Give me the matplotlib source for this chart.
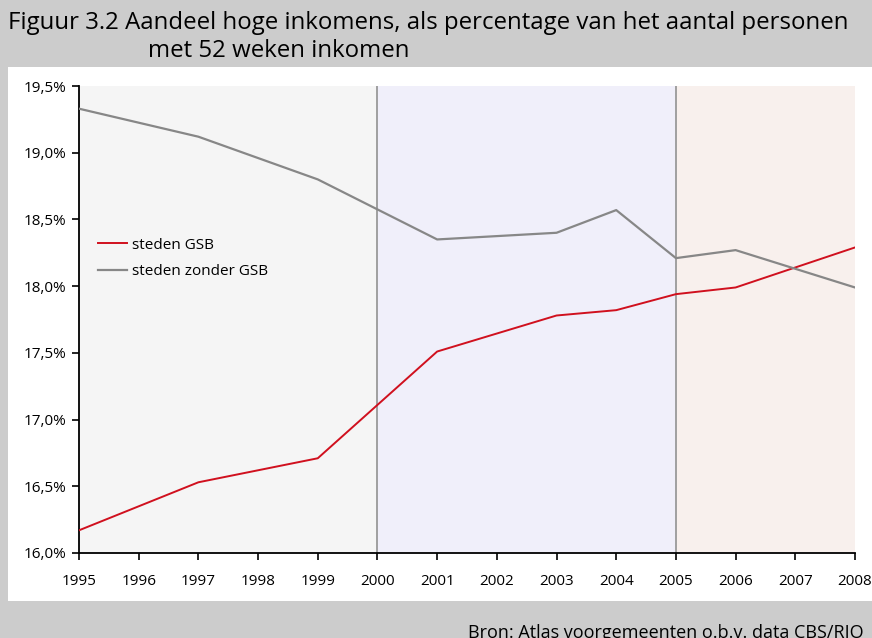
import numpy as np
import matplotlib.pyplot as plt
from matplotlib.patches import Rectangle
from matplotlib.ticker import FuncFormatter

# data
years_gsb = [1995, 1997, 1999, 2001, 2003, 2004, 2005, 2006, 2008]
steden_gsb = [16.17, 16.53, 16.71, 17.51, 17.78, 17.82, 17.94, 17.99, 18.29]
years_zonder = [1995, 1997, 1999, 2001, 2003, 2004, 2005, 2006, 2008]
steden_zonder = [19.33, 19.12, 18.80, 18.35, 18.40, 18.57, 18.21, 18.27, 17.99]
periods = [(1995, 2000, '#f5f5f5'), (2000, 2005, '#f0effa'), (2005, 2008, '#f8f0ed')]
xticks = list(range(1995, 2009))
yticks = [16.0, 16.5, 17.0, 17.5, 18.0, 18.5, 19.0, 19.5]

W, H = 872, 638
plt.rcParams['font.family'] = ['Open Sans', 'DejaVu Sans']
fig = plt.figure(figsize=(W / 100, H / 100), dpi=100)
fig.patch.set_facecolor('#cccccc')

# white panel
fig.patches.append(Rectangle((8 / W, 1 - 601 / H), 1, (601 - 67) / H,
                             transform=fig.transFigure, facecolor='white',
                             edgecolor='none', zorder=-1))

fig.text(8 / W, 1 - 23 / H, 'Figuur 3.2 Aandeel hoge inkomens, als percentage van het aantal personen',
         fontsize=17.3, va='center', ha='left')
fig.text(148 / W, 1 - 51 / H, 'met 52 weken inkomen', fontsize=17.3, va='center', ha='left')
fig.text(468 / W, 1 - 633 / H, 'Bron: Atlas voorgemeenten o.b.v. data CBS/RIO',
         fontsize=13, va='center', ha='left')

ax = fig.add_axes([79 / W, 1 - 553 / H, (855 - 79) / W, (553 - 86) / H])
ax.set_zorder(1)
ax.set_facecolor('none')

for x0, x1, col in periods:
    ax.axvspan(x0, x1, color=col, lw=0, zorder=0)
ax.axvline(2000, color='#999999', lw=1.3, zorder=1)
ax.axvline(2005, color='#999999', lw=1.3, zorder=1)

ax.plot(years_gsb, steden_gsb, color='#d0101e', lw=1.4, label='steden GSB', zorder=3)
ax.plot(years_zonder, steden_zonder, color='#878787', lw=1.6, label='steden zonder GSB', zorder=3)

ax.set_xlim(1995, 2008)
ax.set_ylim(16.0, 19.5)
ax.set_xticks(xticks)
ax.set_yticks(yticks)
ax.yaxis.set_major_formatter(FuncFormatter(lambda v, p: f'{v:.1f}%'.replace('.', ',')))
ax.tick_params(axis='both', direction='out', length=5, width=1.2, labelsize=11, color='black')
ax.tick_params(axis='x', pad=10)
ax.tick_params(axis='y', pad=4)
for s in ['top', 'right']:
    ax.spines[s].set_visible(False)
for s in ['left', 'bottom']:
    ax.spines[s].set_linewidth(1.3)

ax.legend(loc='upper left', bbox_to_anchor=(0.007, 0.705), frameon=False, fontsize=11,
          handlelength=1.9, handletextpad=0.3, labelspacing=0.75)

fig.savefig('out.png', dpi=100, facecolor=fig.get_facecolor())
